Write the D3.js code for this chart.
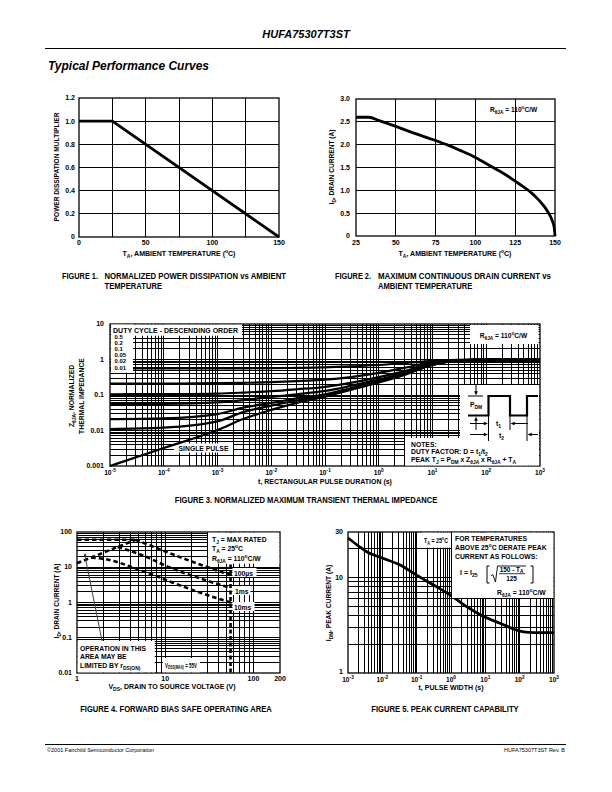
<!DOCTYPE html>
<html><head><meta charset="utf-8">
<script src="https://cdn.jsdelivr.net/npm/d3@7"></script>
<style>body{margin:0;background:#fff}</style>
</head><body>
<script>
// ================= DATA =================
// Figure 1
const fig1Temp = [0, 25, 150];
const fig1Multiplier = [1.0, 1.0, 0.0];
const fig1GridX = [25, 50, 75, 100, 125];
const fig1GridY = [0.2, 0.4, 0.6, 0.8, 1.0];
const fig1XTicks = [0, 50, 100, 150];
const fig1YTicks = [0, 0.2, 0.4, 0.6, 0.8, 1.0, 1.2];
const fig1YLabels = ["0", "0.2", "0.4", "0.6", "0.8", "1.0", "1.2"];
// Figure 2
const fig2Temp = [25, 33, 40, 50, 60, 70, 82, 90, 100, 110, 120, 125, 130, 135, 140, 145, 148, 149.5, 150];
const fig2Current = [2.6, 2.6, 2.52, 2.4, 2.27, 2.15, 2.0, 1.88, 1.72, 1.52, 1.32, 1.2, 1.08, 0.95, 0.78, 0.56, 0.36, 0.18, 0];
const fig2GridX = [50, 75, 100, 125];
const fig2GridY = [0.5, 1.0, 1.5, 2.0, 2.5];
const fig2XTicks = [25, 50, 75, 100, 125, 150];
const fig2YTicks = [0, 0.5, 1.0, 1.5, 2.0, 2.5, 3.0];
const fig2YLabels = ["0", "0.5", "1.0", "1.5", "2.0", "2.5", "3.0"];
// Figure 3
const fig3Time = [1e-5, 1e-4, 1e-3, 3e-3, 1e-2, 3e-2, 1e-1, 3e-1, 1, 3, 10, 30, 100, 1000];
const fig3D050 = [0.56, 0.56, 0.56, 0.565, 0.57, 0.58, 0.60, 0.64, 0.70, 0.79, 0.92, 0.98, 1.0, 1.0];
const fig3D020 = [0.21, 0.21, 0.215, 0.22, 0.23, 0.245, 0.27, 0.32, 0.42, 0.58, 0.84, 0.96, 1.0, 1.0];
const fig3D010 = [0.105, 0.106, 0.11, 0.117, 0.128, 0.145, 0.17, 0.22, 0.32, 0.47, 0.78, 0.95, 1.0, 1.0];
const fig3D005 = [0.055, 0.056, 0.062, 0.072, 0.088, 0.105, 0.13, 0.18, 0.27, 0.42, 0.74, 0.94, 1.0, 1.0];
const fig3D002 = [0.021, 0.022, 0.029, 0.044, 0.06, 0.08, 0.105, 0.155, 0.245, 0.39, 0.72, 0.94, 1.0, 1.0];
const fig3D001 = [0.011, 0.012, 0.018, 0.033, 0.05, 0.07, 0.097, 0.145, 0.235, 0.38, 0.71, 0.93, 1.0, 1.0];
const fig3Single = [0.001, 0.0032, 0.0103, 0.021, 0.038, 0.06, 0.09, 0.14, 0.225, 0.37, 0.70, 0.93, 1.0, 1.0];
const fig3DutyLabels = ["0.5", "0.2", "0.1", "0.05", "0.02", "0.01"];
const fig3XTicks = [1e-5, 1e-4, 1e-3, 1e-2, 1e-1, 1, 10, 100, 1000];
const fig3XExp = ["-5", "-4", "-3", "-2", "-1", "0", "1", "2", "3"];
const fig3YTicks = [10, 1, 0.1, 0.01, 0.001];
const fig3YLabels = ["10", "1", "0.1", "0.01", "0.001"];
// Figure 4
const fig4RdsV = [1, 4.6];
const fig4RdsI = [13, 60];
const fig4TopV = [1, 4.6];
const fig4TopI = [60, 60];
const fig4V100us = [4.6, 7, 11.3, 20, 35, 55];
const fig4I100us = [60, 40, 25, 14.5, 8.8, 6.0];
const fig4V1ms = [2.9, 5.5, 11.3, 25, 55];
const fig4I1ms = [37.7, 22, 9.8, 4.8, 2.6];
const fig4V10ms = [1.45, 2.5, 4, 7, 12, 25, 55];
const fig4I10ms = [18.8, 15.5, 10.5, 6.3, 3.7, 1.9, 1.0];
const fig4Vdss = 55;
const fig4XTicks = [1, 10, 100, 200];
const fig4XLabels = ["1", "10", "100", "200"];
const fig4YTicks = [100, 10, 1, 0.1, 0.01];
const fig4YLabels = ["100", "10", "1", "0.1", "0.01"];
// Figure 5
const fig5Time = [1e-3, 2e-3, 3.6e-3, 1e-2, 3.3e-2, 0.1, 0.3, 0.93, 3, 9, 28, 87, 150, 250, 1000];
const fig5Current = [26, 21.5, 18.5, 16, 13.5, 10.6, 8.4, 6.6, 4.9, 3.9, 3.3, 2.8, 2.68, 2.65, 2.65];
const fig5XTicks = [1e-3, 1e-2, 1e-1, 1, 10, 100, 1000];
const fig5XExp = ["-3", "-2", "-1", "0", "1", "2", "3"];
const fig5YTicks = [30, 10, 1];
const fig5YLabels = ["30", "10", "1"];

// ================= HELPERS =================
const FONT = "'Liberation Sans', Arial, Helvetica, sans-serif";
const NARROW = "'Liberation Sans Narrow', 'Arial Narrow', 'Liberation Sans', Arial, sans-serif";
const svg = d3.select("body").append("svg").attr("width", 612).attr("height", 792)
  .style("background", "#fff");

const probe = svg.append("text").attr("font-family", "'Liberation Sans Narrow'").attr("font-weight", "bold")
  .attr("font-size", 10).text("TEMPERATURE MMM");
const wN = probe.node().getComputedTextLength();
probe.attr("font-family", "'Liberation Sans'");
const wR = probe.node().getComputedTextLength();
probe.remove();
const narrowOK = wN < wR * 0.92;

function txt(parent, x, y, parts, o = {}) {
  const fs = o.size || 7;
  if (o.sx) {
    parent = parent.append("g").attr("transform", `translate(${x},${y}) scale(${o.sx},1)`);
    x = 0; y = 0;
  }
  const t = parent.append("text").attr("x", x).attr("y", y)
    .attr("font-family", o.family || FONT).attr("font-size", fs)
    .attr("font-weight", o.weight || "bold").attr("font-style", o.style || "normal")
    .attr("text-anchor", o.anchor || "start").attr("fill", "#000");
  if (!Array.isArray(parts)) parts = [parts];
  let cur = 0;
  parts.forEach(p => {
    const [s, m] = Array.isArray(p) ? p : [p, "n"];
    const target = m === "sub" ? fs * 0.3 : m === "sup" ? -fs * 0.42 : 0;
    const ts = t.append("tspan").attr("dy", (target - cur).toFixed(2)).text(s);
    if (m !== "n") ts.attr("font-size", (fs * 0.72).toFixed(2));
    cur = target;
  });
  if (o.len) t.attr("textLength", o.len).attr("lengthAdjust", "spacingAndGlyphs");
  return t;
}
function vtxt(x, y, parts, o = {}) {
  const g = svg.append("g").attr("transform", `translate(${x},${y}) rotate(-90)`);
  return txt(g, 0, 0, parts, Object.assign({ anchor: "middle" }, o));
}
function caption(x, y, s, o = {}) {
  const t = txt(svg, x, y, s, Object.assign({ family: NARROW, size: 9.3 }, o));
  if (o.len) return t;
  if (!narrowOK) {
    const w = t.node().getComputedTextLength();
    t.attr("textLength", (w * 0.82).toFixed(1)).attr("lengthAdjust", "spacingAndGlyphs");
  }
  return t;
}
function gridLines(g, xs, ys, xv, yv, sw = 1) {
  const [xa, xb] = xs.range(), [ya, yb] = ys.range();
  g.append("g").selectAll("line").data(xv).join("line")
    .attr("x1", d => xs(d)).attr("x2", d => xs(d)).attr("y1", ya).attr("y2", yb)
    .attr("stroke", "#000").attr("stroke-width", sw).attr("shape-rendering", "crispEdges");
  g.append("g").selectAll("line").data(yv).join("line")
    .attr("y1", d => ys(d)).attr("y2", d => ys(d)).attr("x1", xa).attr("x2", xb)
    .attr("stroke", "#000").attr("stroke-width", sw).attr("shape-rendering", "crispEdges");
  g.append("rect").attr("x", Math.min(xa, xb)).attr("y", Math.min(ya, yb))
    .attr("width", Math.abs(xb - xa)).attr("height", Math.abs(yb - ya))
    .attr("fill", "none").attr("stroke", "#000").attr("stroke-width", 1.3);
}
function logVals(lo, hi) {
  const v = [];
  for (let e = Math.floor(Math.log10(lo)); e <= Math.ceil(Math.log10(hi)); e++)
    for (let k = 1; k < 10; k++) {
      const val = +(k * Math.pow(10, e)).toPrecision(6);
      if (val > lo * 1.0001 && val < hi * 0.9999) v.push(val);
    }
  return v;
}
function whiteBox(x, y, w, h) {
  svg.append("rect").attr("x", x).attr("y", y).attr("width", w).attr("height", h).attr("fill", "#fff");
}
function tri(x, y, dir, s = 3) {
  let p;
  if (dir === "r") p = `M${x},${y} L${x - s * 1.6},${y - s * 0.7} L${x - s * 1.6},${y + s * 0.7} Z`;
  if (dir === "l") p = `M${x},${y} L${x + s * 1.6},${y - s * 0.7} L${x + s * 1.6},${y + s * 0.7} Z`;
  if (dir === "d") p = `M${x},${y} L${x - s * 0.7},${y - s * 1.6} L${x + s * 0.7},${y - s * 1.6} Z`;
  if (dir === "u") p = `M${x},${y} L${x - s * 0.7},${y + s * 1.6} L${x + s * 0.7},${y + s * 1.6} Z`;
  svg.append("path").attr("d", p).attr("fill", "#000");
}
function seg(d, sw = 1) {
  svg.append("path").attr("d", d).attr("fill", "none").attr("stroke", "#000").attr("stroke-width", sw);
}
const zip = (a, b) => a.map((v, i) => [v, b[i]]);

// ================= PAGE HEADER =================
txt(svg, 306, 38, "HUFA75307T3ST", { size: 11, style: "italic", anchor: "middle" });
seg("M45,48.5 H566", 1);
txt(svg, 48, 70, "Typical Performance Curves", { size: 12, style: "italic", len: 161 });

// ================= FIGURE 1 =================
{
  const x = d3.scaleLinear([0, 150], [79, 279]);
  const y = d3.scaleLinear([0, 1.2], [237, 98]);
  const g = svg.append("g");
  gridLines(g, x, y, fig1GridX, fig1GridY);
  g.append("path").datum(zip(fig1Temp, fig1Multiplier))
    .attr("d", d3.line().x(d => x(d[0])).y(d => y(d[1])))
    .attr("fill", "none").attr("stroke", "#000").attr("stroke-width", 2.8);
  fig1XTicks.forEach(v => txt(svg, x(v), 245, String(v), { anchor: "middle" }));
  fig1YTicks.forEach((v, i) => txt(svg, 75, y(v) + 2.4, fig1YLabels[i], { anchor: "end" }));
  txt(svg, 179, 256, ["T", ["A", "sub"], ", AMBIENT TEMPERATURE (", ["o", "sup"], "C)"], { anchor: "middle" });
  vtxt(59, 167, "POWER DISSIPATION MULTIPLIER", { size: 6.6 });
  caption(62, 278.5, "FIGURE 1.", { len: 36 });
  caption(104.5, 278.5, "NORMALIZED POWER DISSIPATION vs AMBIENT", { len: 181.5 });
  caption(104.5, 289, "TEMPERATURE");
}

// ================= FIGURE 2 =================
{
  const x = d3.scaleLinear([25, 150], [356, 555]);
  const y = d3.scaleLinear([0, 3], [236, 99]);
  const g = svg.append("g");
  gridLines(g, x, y, fig2GridX, fig2GridY);
  g.append("path").datum(zip(fig2Temp, fig2Current))
    .attr("d", d3.line().x(d => x(d[0])).y(d => y(d[1])).curve(d3.curveMonotoneX))
    .attr("fill", "none").attr("stroke", "#000").attr("stroke-width", 2.8);
  fig2XTicks.forEach(v => txt(svg, x(v), 244.5, String(v), { anchor: "middle" }));
  fig2YTicks.forEach((v, i) => txt(svg, 350, y(v) + 2.4, fig2YLabels[i], { anchor: "end" }));
  txt(svg, 455, 256, ["T", ["A", "sub"], ", AMBIENT TEMPERATURE (", ["o", "sup"], "C)"], { anchor: "middle" });
  vtxt(334, 167, ["I", ["D", "sub"], ", DRAIN CURRENT (A)"], { size: 6.6 });
  txt(svg, 490, 112, ["R", ["θJA", "sub"], " = 110", ["o", "sup"], "C/W"], { size: 6.6 });
  caption(335, 278.5, "FIGURE 2.", { len: 36 });
  caption(378, 278.5, "MAXIMUM CONTINUOUS DRAIN CURRENT vs", { len: 173 });
  caption(378, 289, "AMBIENT TEMPERATURE");
}

// ================= FIGURE 3 =================
{
  const x = d3.scaleLog([1e-5, 1e3], [110, 540]);
  const y = d3.scaleLog([1e-3, 10], [466, 324]);
  const g = svg.append("g");
  gridLines(g, x, y, logVals(1e-5, 1e3), logVals(1e-3, 10), 1);
  whiteBox(174, 443.5, 59, 9);
  txt(svg, 203.5, 451, "SINGLE PULSE", { anchor: "middle", size: 6.8 });
  const line = d3.line().x(d => x(d[0])).y(d => y(d[1])).curve(d3.curveMonotoneX);
  [fig3D050, fig3D020, fig3D010, fig3D005, fig3D002, fig3D001, fig3Single].forEach(s => {
    svg.append("path").datum(zip(fig3Time, s)).attr("d", line)
      .attr("fill", "none").attr("stroke", "#000").attr("stroke-width", 2.2);
  });
  whiteBox(111, 324.7, 131, 11);
  whiteBox(111, 324.7, 22, 48);
  txt(svg, 113, 332.5, "DUTY CYCLE - DESCENDING ORDER", { size: 7, len: 125 });
  const ly = [339, 345, 351, 357, 363.2, 369.5];
  fig3DutyLabels.forEach((s, i) => txt(svg, 114.5, ly[i], s, { size: 5.9 }));
  whiteBox(470, 325, 68.5, 19);
  txt(svg, 503.5, 338, ["R", ["θJA", "sub"], " = 110", ["o", "sup"], "C/W"], { size: 6.6, anchor: "middle" });
  svg.append("path").attr("d", "M460,385 H539 V465.5 H405 V438 H460 Z").attr("fill", "#fff");
  seg("M468,396 H483");
  seg("M476,385 V392"); tri(476, 395.5, "d", 2.6);
  txt(svg, 470, 407, ["P", ["DM", "sub"]], { size: 6.8 });
  seg("M468,415.5 H488.5 V396 H510 V415.5 H527 V396 H538", 2.2);
  seg("M476,430 V420"); tri(476, 416.5, "u", 2.6);
  seg("M488.5,415.5 V441"); seg("M510,415.5 V430"); seg("M527,415.5 V441");
  seg("M470,423.5 H484"); tri(488, 423.5, "r", 2.6);
  seg("M528,423.5 H514"); tri(510.5, 423.5, "l", 2.6);
  txt(svg, 496, 426, ["t", ["1", "sub"]], { size: 6.8 });
  seg("M470,434.5 H484"); tri(488, 434.5, "r", 2.6);
  seg("M538,434.5 H531"); tri(527.5, 434.5, "l", 2.6);
  txt(svg, 499, 438, ["t", ["2", "sub"]], { size: 6.8 });
  txt(svg, 411, 446.5, "NOTES:", { size: 6.8 });
  txt(svg, 411, 454, ["DUTY FACTOR: D = t", ["1", "sub"], "/t", ["2", "sub"]], { size: 6.8 });
  txt(svg, 411, 462, ["PEAK T", ["J", "sub"], " = P", ["DM", "sub"], " x Z", ["θJA", "sub"], " x R", ["θJA", "sub"], " + T", ["A", "sub"]], { size: 6.8 });
  fig3XTicks.forEach((v, i) => txt(svg, x(v), 474.5, ["10", [fig3XExp[i], "sup"]], { anchor: "middle", size: 6.6 }));
  fig3YTicks.forEach((v, i) => txt(svg, 104, y(v) + 2.4, fig3YLabels[i], { anchor: "end" }));
  txt(svg, 325, 484, "t, RECTANGULAR PULSE DURATION (s)", { anchor: "middle" });
  vtxt(74, 396, ["Z", ["θJA", "sub"], ", NORMALIZED"], { size: 6.8 });
  vtxt(84, 396, "THERMAL IMPEDANCE", { size: 6.8 });
  caption(306, 503, "FIGURE 3.  NORMALIZED MAXIMUM TRANSIENT THERMAL IMPEDANCE", { anchor: "middle" });
}

// ================= FIGURE 4 =================
{
  const x = d3.scaleLog([1, 200], [77, 280]);
  const y = d3.scaleLog([0.01, 100], [673, 532]);
  const g = svg.append("g");
  gridLines(g, x, y, logVals(1, 200), logVals(0.01, 100), 1);
  const line = d3.line().x(d => x(d[0])).y(d => y(d[1])).curve(d3.curveMonotoneX);
  const dashed = (vs, is) => svg.append("path").datum(zip(vs, is)).attr("d", line)
    .attr("fill", "none").attr("stroke", "#000").attr("stroke-width", 2.6).attr("stroke-dasharray", "4.5,3");
  dashed(fig4TopV, fig4TopI);
  dashed(fig4RdsV, fig4RdsI);
  dashed(fig4V100us, fig4I100us);
  dashed(fig4V1ms, fig4I1ms);
  dashed(fig4V10ms, fig4I10ms);
  svg.append("line").attr("x1", x(fig4Vdss)).attr("x2", x(fig4Vdss)).attr("y1", y(100)).attr("y2", y(0.01))
    .attr("stroke", "#000").attr("stroke-width", 2.6).attr("stroke-dasharray", "4,2.5");
  whiteBox(232.5, 568, 24, 9); txt(svg, 234, 575.5, "100µs", { size: 6.8 });
  whiteBox(232.5, 586, 18, 9); txt(svg, 235, 593.5, "1ms", { size: 6.8 });
  whiteBox(232.5, 602, 22, 9); txt(svg, 234, 609.5, "10ms", { size: 6.8 });
  whiteBox(208, 532.7, 71.3, 31);
  txt(svg, 212, 541.5, ["T", ["J", "sub"], " = MAX RATED"], { size: 6.8 });
  txt(svg, 212, 551, ["T", ["A", "sub"], " = 25", ["o", "sup"], "C"], { size: 6.8 });
  txt(svg, 212, 560.5, ["R", ["θJA", "sub"], " = 110", ["o", "sup"], "C/W"], { size: 6.8 });
  whiteBox(77.7, 641, 77, 31.3);
  txt(svg, 80, 650.5, "OPERATION IN THIS", { size: 6.8 });
  txt(svg, 80, 659, "AREA MAY BE", { size: 6.8 });
  txt(svg, 80, 667.5, ["LIMITED BY r", ["DS(ON)", "sub"]], { size: 6.8 });
  whiteBox(163, 658, 37, 14.3);
  txt(svg, 165, 667.5, ["V", ["DSS(MAX)", "sub"], " = 55V"], { size: 6.4, sx: 0.7 });
  svg.append("line").attr("x1", 102).attr("y1", 641).attr("x2", 85).attr("y2", 556)
    .attr("stroke", "#444").attr("stroke-width", 1);
  svg.append("circle").attr("cx", 85).attr("cy", 555).attr("r", 1.3).attr("fill", "#444");
  fig4XTicks.forEach((v, i) => txt(svg, x(v), 681, fig4XLabels[i], { anchor: "middle" }));
  fig4YTicks.forEach((v, i) => txt(svg, 72, y(v) + 2.2, fig4YLabels[i], { anchor: "end" }));
  txt(svg, 172, 689, ["V", ["DS", "sub"], ", DRAIN TO SOURCE VOLTAGE (V)"], { anchor: "middle" });
  vtxt(59, 601, ["I", ["D", "sub"], ", DRAIN CURRENT (A)"], { size: 6.6 });
  caption(176, 712, "FIGURE 4.  FORWARD BIAS SAFE OPERATING AREA", { anchor: "middle" });
}

// ================= FIGURE 5 =================
{
  const x = d3.scaleLog([1e-3, 1e3], [348, 554]);
  const y = d3.scaleLog([1, 30], [673, 532]);
  const g = svg.append("g");
  gridLines(g, x, y, logVals(1e-3, 1e3), logVals(1, 30), 1);
  svg.append("path").datum(zip(fig5Time, fig5Current))
    .attr("d", d3.line().x(d => x(d[0])).y(d => y(d[1])).curve(d3.curveMonotoneX))
    .attr("fill", "none").attr("stroke", "#000").attr("stroke-width", 2.8);
  whiteBox(422, 532.7, 28.4, 15);
  txt(svg, 424, 543, ["T", ["A", "sub"], " = 25", ["o", "sup"], "C"], { size: 6.6, sx: 0.8 });
  whiteBox(452, 532.7, 101.3, 65.3);
  txt(svg, 455, 540.5, "FOR TEMPERATURES", { size: 6.8 });
  txt(svg, 455, 549.5, ["ABOVE 25", ["o", "sup"], "C DERATE PEAK"], { size: 6.8 });
  txt(svg, 455, 558.5, "CURRENT AS FOLLOWS:", { size: 6.8 });
  txt(svg, 460, 575, ["I = I", ["25", "sub"]], { size: 7 });
  seg("M489.5,566 H487 V583 H489.5", 1);
  seg("M491,576 L492.8,574.5 L495.5,582 L497.5,566 H526", 0.9);
  txt(svg, 511.5, 571.5, ["150 - T", ["A", "sub"]], { size: 6.4, anchor: "middle" });
  seg("M499,573.7 H525", 0.8);
  txt(svg, 511.5, 580.5, "125", { size: 6.4, anchor: "middle" });
  seg("M530.5,566 H533 V583 H530.5", 1);
  txt(svg, 497, 594.5, ["R", ["θJA", "sub"], " = 110", ["o", "sup"], "C/W"], { size: 6.8 });
  fig5XTicks.forEach((v, i) => txt(svg, x(v), 682, ["10", [fig5XExp[i], "sup"]], { anchor: "middle", size: 6.6 }));
  fig5YTicks.forEach((v, i) => txt(svg, 343, y(v) + (v === 1 ? 0.5 : 2.4), fig5YLabels[i], { anchor: "end" }));
  txt(svg, 451, 690, "t, PULSE WIDTH (s)", { anchor: "middle" });
  vtxt(331, 603, ["I", ["DM", "sub"], ", PEAK CURRENT (A)"], { size: 6.6 });
  caption(445, 712, "FIGURE 5.  PEAK CURRENT CAPABILITY", { anchor: "middle" });
}

// ================= FOOTER =================
seg("M45,744.5 H566", 1);
txt(svg, 47, 752, "©2001 Fairchild Semiconductor Corporation", { size: 5.5, weight: "normal" });
txt(svg, 565, 752, "HUFA75307T3ST Rev. B", { size: 5.5, weight: "normal", anchor: "end" });
</script>
</body></html>
